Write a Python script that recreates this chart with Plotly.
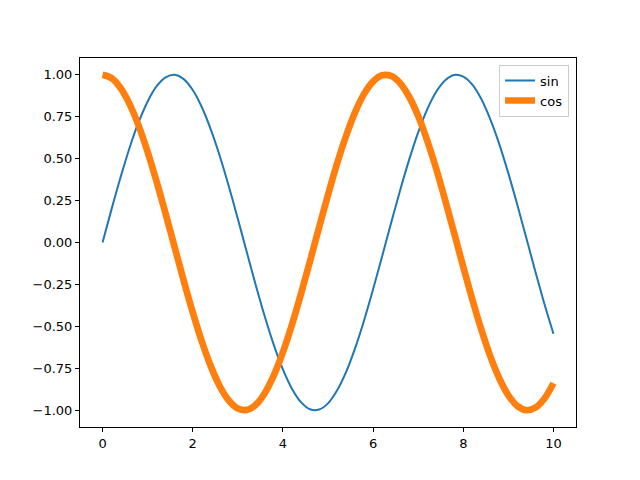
import plotly.graph_objects as go

x_vals = [0.0, 0.2, 0.4, 0.6, 0.8, 1.0, 1.2, 1.4, 1.6, 1.8, 2.0, 2.2, 2.4, 2.6, 2.8, 3.0,
          3.2, 3.4, 3.6, 3.8, 4.0, 4.2, 4.4, 4.6, 4.8, 5.0, 5.2, 5.4, 5.6, 5.8, 6.0, 6.2,
          6.4, 6.6, 6.8, 7.0, 7.2, 7.4, 7.6, 7.8, 8.0, 8.2, 8.4, 8.6, 8.8, 9.0, 9.2, 9.4,
          9.6, 9.8, 10.0]
sin_vals = [0.000, 0.199, 0.389, 0.565, 0.717, 0.841, 0.932, 0.985, 1.000, 0.974, 0.909,
            0.808, 0.675, 0.516, 0.335, 0.141, -0.058, -0.256, -0.443, -0.612, -0.757,
            -0.872, -0.952, -0.994, -0.996, -0.959, -0.883, -0.773, -0.631, -0.465, -0.279,
            -0.083, 0.117, 0.312, 0.494, 0.657, 0.794, 0.899, 0.968, 0.999, 0.989, 0.941,
            0.855, 0.734, 0.585, 0.412, 0.223, 0.025, -0.174, -0.367, -0.544]
cos_vals = [1.000, 0.980, 0.921, 0.825, 0.697, 0.540, 0.362, 0.170, -0.029, -0.227, -0.416,
            -0.589, -0.737, -0.857, -0.942, -0.990, -0.998, -0.967, -0.897, -0.791, -0.654,
            -0.490, -0.307, -0.112, 0.087, 0.284, 0.469, 0.635, 0.776, 0.886, 0.960, 0.997,
            0.993, 0.950, 0.869, 0.754, 0.608, 0.439, 0.251, 0.054, -0.146, -0.339, -0.519,
            -0.679, -0.811, -0.911, -0.975, -1.000, -0.985, -0.930, -0.839]
x_ticks = [0, 2, 4, 6, 8, 10]
y_ticks = [-1.0, -0.75, -0.5, -0.25, 0.0, 0.25, 0.5, 0.75, 1.0]

fig = go.Figure()
fig.add_trace(go.Scatter(x=x_vals, y=sin_vals, mode="lines", name="sin",
                         line=dict(color="#1f77b4", width=2, shape="spline")))
fig.add_trace(go.Scatter(x=x_vals, y=cos_vals, mode="lines", name="cos",
                         line=dict(color="#ff7f0e", width=6.7, shape="spline")))

axis_common = dict(showline=True, linecolor="black", linewidth=1, mirror=True,
                   showgrid=False, zeroline=False, ticks="outside", ticklen=4,
                   tickwidth=1, tickcolor="black")
fig.update_layout(
    width=640, height=480,
    margin=dict(l=72, r=72, t=50, b=61),
    paper_bgcolor="white", plot_bgcolor="white",
    font=dict(family="DejaVu Sans", size=13, color="black"),
    xaxis=dict(range=[-0.5, 10.5], tickvals=x_ticks, **axis_common),
    yaxis=dict(range=[-1.1, 1.1], tickvals=y_ticks, tickformat=".2f", **axis_common),
    legend=dict(x=0.986, y=0.982, xanchor="right", yanchor="top",
                bordercolor="#cccccc", borderwidth=1, bgcolor="rgba(255,255,255,0.8)",
                font=dict(size=13)),
)
fig.write_html("out.html")
